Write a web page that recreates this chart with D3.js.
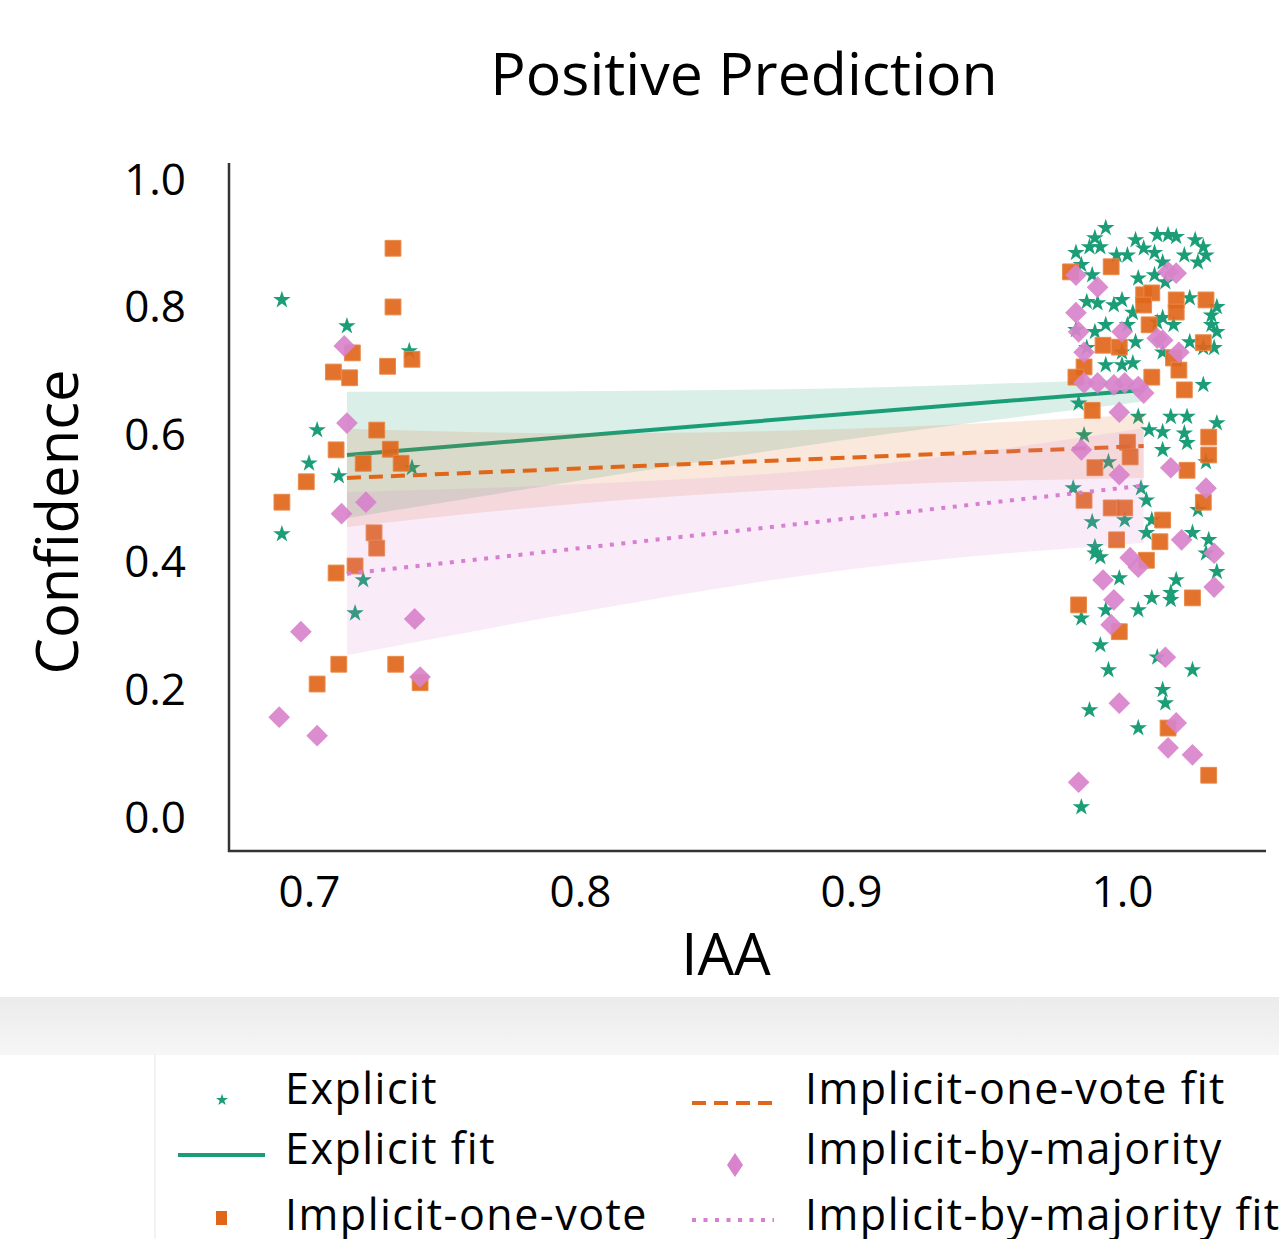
<!DOCTYPE html>
<html>
<head>
<meta charset="utf-8">
<script src="https://cdn.jsdelivr.net/npm/d3@7"></script>
<style>
  body { margin: 0; background: #fff; }
  text { font-family: "Open Sans", "Noto Sans", sans-serif; fill: #000; }
</style>
</head>
<body>
<div id="chart"></div>
<script>
// axis ticks
var xTicks = [0.7, 0.8, 0.9, 1.0];
var yTicks = [0.0, 0.2, 0.4, 0.6, 0.8, 1.0];

// scatter points [IAA (jittered), confidence]
var explicitPts = [
  [0.690, 0.812], [0.714, 0.771], [0.737, 0.732], [0.703, 0.608], [0.700, 0.556],
  [0.711, 0.536], [0.738, 0.549], [0.690, 0.445], [0.720, 0.373], [0.717, 0.321],
  [0.994, 0.925], [0.990, 0.909], [0.988, 0.895], [0.992, 0.895], [0.983, 0.886],
  [0.998, 0.882], [1.002, 0.882], [1.005, 0.906], [1.008, 0.893], [1.012, 0.886],
  [1.013, 0.914], [0.985, 0.867], [0.989, 0.851], [1.006, 0.846], [1.012, 0.851],
  [0.987, 0.809], [0.991, 0.807], [0.997, 0.804], [1.000, 0.812], [1.004, 0.792],
  [0.994, 0.773], [0.990, 0.762], [1.002, 0.773], [1.013, 0.777], [1.005, 0.746],
  [0.987, 0.737], [1.000, 0.730], [1.015, 0.730], [0.983, 0.765],
  [1.017, 0.914], [1.020, 0.911], [1.027, 0.906], [1.030, 0.895], [1.023, 0.882],
  [1.031, 0.882], [1.028, 0.871], [1.015, 0.871], [1.016, 0.840], [1.025, 0.815],
  [1.035, 0.801], [1.033, 0.788], [1.033, 0.773], [1.015, 0.784], [1.019, 0.773],
  [1.035, 0.762], [1.025, 0.746], [1.030, 0.737], [1.034, 0.737],
  [0.994, 0.710], [1.000, 0.710], [1.004, 0.713], [1.030, 0.679], [0.984, 0.650],
  [1.006, 0.629], [1.010, 0.608], [1.015, 0.605], [1.018, 0.629], [1.024, 0.629],
  [1.035, 0.619], [1.023, 0.603], [1.024, 0.588], [1.015, 0.577], [0.986, 0.600],
  [0.995, 0.558], [1.031, 0.558], [0.982, 0.517], [1.007, 0.517], [1.009, 0.498],
  [0.989, 0.464], [1.001, 0.467], [1.011, 0.467], [1.026, 0.447], [1.032, 0.436],
  [1.009, 0.447], [0.990, 0.425], [0.990, 0.415], [0.992, 0.409], [1.035, 0.386],
  [0.999, 0.376], [1.020, 0.373], [1.018, 0.353], [1.011, 0.345], [0.994, 0.326],
  [1.006, 0.326], [1.018, 0.342], [1.031, 0.415], [1.028, 0.483],
  [0.985, 0.313], [0.992, 0.271], [0.995, 0.232], [1.013, 0.252], [1.026, 0.232],
  [1.015, 0.201], [1.016, 0.180], [0.988, 0.169], [1.006, 0.141], [0.985, 0.017]
];

var oneVotePts = [
  [0.731, 0.893], [0.731, 0.801], [0.716, 0.729], [0.709, 0.699], [0.715, 0.690],
  [0.729, 0.708], [0.738, 0.719], [0.725, 0.608], [0.710, 0.577], [0.730, 0.578],
  [0.720, 0.556], [0.734, 0.556], [0.699, 0.527], [0.690, 0.495], [0.724, 0.447],
  [0.725, 0.423], [0.710, 0.384], [0.717, 0.395], [0.711, 0.241], [0.703, 0.210],
  [0.732, 0.241], [0.741, 0.212],
  [0.996, 0.864], [0.981, 0.856], [1.008, 0.820], [1.011, 0.823], [1.008, 0.804],
  [1.010, 0.773], [0.993, 0.741], [0.999, 0.738], [1.020, 0.812], [1.020, 0.793],
  [1.031, 0.812], [1.030, 0.745], [1.019, 0.721], [0.986, 0.707], [0.983, 0.691],
  [1.011, 0.691], [1.021, 0.702], [1.023, 0.671], [0.989, 0.639], [1.002, 0.589],
  [1.003, 0.566], [0.990, 0.549], [0.986, 0.498], [0.996, 0.486], [1.001, 0.486],
  [1.015, 0.467], [1.032, 0.597], [1.032, 0.569], [1.024, 0.545], [1.030, 0.495],
  [0.998, 0.436], [1.014, 0.433], [1.009, 0.404], [1.026, 0.345], [0.984, 0.334],
  [0.999, 0.292], [1.017, 0.141], [1.032, 0.067]
];

var majorityPts = [
  [0.713, 0.740], [0.714, 0.619], [0.721, 0.495], [0.712, 0.477], [0.697, 0.292],
  [0.739, 0.312], [0.741, 0.221], [0.689, 0.158], [0.703, 0.129],
  [0.983, 0.851], [0.991, 0.832], [0.983, 0.792], [0.984, 0.762], [1.000, 0.762],
  [1.013, 0.752], [0.986, 0.730], [1.017, 0.856], [1.020, 0.854], [1.015, 0.749],
  [1.021, 0.730], [0.986, 0.682], [0.991, 0.682], [0.997, 0.679], [1.001, 0.682],
  [1.006, 0.676], [1.008, 0.666], [0.999, 0.636], [0.985, 0.577], [0.999, 0.538],
  [1.018, 0.549], [1.031, 0.517], [1.022, 0.436], [1.034, 0.415], [1.003, 0.408],
  [1.006, 0.393], [0.993, 0.373], [0.997, 0.342], [1.034, 0.362], [0.996, 0.303],
  [1.016, 0.252], [0.999, 0.180], [1.020, 0.149], [1.017, 0.110], [1.026, 0.099],
  [0.984, 0.056]
];

// regression fits: x positions of band samples, fit value, CI low / high
var fitX = [0.714, 0.80, 0.90, 1.008];
var explicitFit = [0.569, 0.599, 0.634, 0.671];
var explicitLo  = [0.470, 0.529, 0.594, 0.653];
var explicitHi  = [0.668, 0.669, 0.674, 0.689];
var oneVoteFit  = [0.533, 0.548, 0.565, 0.583];
var oneVoteLo   = [0.456, 0.493, 0.520, 0.533];
var oneVoteHi   = [0.610, 0.603, 0.610, 0.633];
var majorityFit = [0.383, 0.423, 0.470, 0.521];
var majorityLo  = [0.255, 0.323, 0.390, 0.431];
var majorityHi  = [0.511, 0.523, 0.550, 0.611];

var green = '#1b9e77';
var orange = '#e0661a';
var pink = '#d883cb';

var W = 1279, H = 1239;

var svg = d3.select('#chart').append('svg')
  .attr('width', W)
  .attr('height', H);

var x = d3.scaleLinear().domain([0.7, 1.0]).range([309, 1122]);
var y = d3.scaleLinear().domain([0, 1]).range([818, 180]);

// title
svg.append('text')
  .attr('x', 744).attr('y', 95)
  .style('text-anchor', 'middle')
  .style('font-size', '59px')
  .text('Positive Prediction');

// y axis ticks (labels only)
var yAxis = d3.axisLeft(y).tickValues(yTicks).tickSize(0).tickPadding(0)
  .tickFormat(d3.format('.1f'));
svg.append('g')
  .attr('transform', 'translate(186,0)')
  .call(yAxis)
  .call(function(g) { g.select('.domain').remove(); })
  .selectAll('text')
    .style('font-size', '44px')
    .style('font-family', '"Open Sans", sans-serif')
    .attr('fill', '#000');

var xAxis = d3.axisBottom(x).tickValues(xTicks).tickSize(0).tickPadding(0)
  .tickFormat(d3.format('.1f'));
svg.append('g')
  .attr('transform', 'translate(0,876)')
  .call(xAxis)
  .call(function(g) { g.select('.domain').remove(); })
  .selectAll('text')
    .style('font-size', '44px')
    .style('font-family', '"Open Sans", sans-serif')
    .attr('fill', '#000');

// spines
svg.append('line')
  .attr('x1', 229).attr('x2', 229).attr('y1', 163).attr('y2', 852)
  .attr('stroke', '#333').attr('stroke-width', 2.5);
svg.append('line')
  .attr('x1', 228).attr('x2', 1266).attr('y1', 851).attr('y2', 851)
  .attr('stroke', '#333').attr('stroke-width', 2.5);

// axis labels
svg.append('text')
  .attr('x', 726).attr('y', 975)
  .style('text-anchor', 'middle')
  .style('font-size', '58px')
  .text('IAA');

svg.append('text')
  .attr('transform', 'translate(78,522) rotate(-90)')
  .style('text-anchor', 'middle')
  .style('font-size', '58px')
  .text('Confidence');

var plot = svg.append('g');

var starSym = d3.symbol().type(d3.symbolStar).size(95);
var squareSym = d3.symbol().type(d3.symbolSquare).size(250);
var diamondSym = d3.symbol().type(d3.symbolSquare).size(235);

var area = d3.area()
  .x(function(d) { return x(d.x); })
  .y0(function(d) { return y(d.lo); })
  .y1(function(d) { return y(d.hi); })
  .curve(d3.curveMonotoneX);

var line = d3.line()
  .x(function(d) { return x(d.x); })
  .y(function(d) { return y(d.v); })
  .curve(d3.curveMonotoneX);

function band(fit, lo, hi) {
  return fitX.map(function(xv, i) { return { x: xv, v: fit[i], lo: lo[i], hi: hi[i] }; });
}

function drawFit(rows, color, alpha, dash, width) {
  plot.append('path')
    .datum(rows)
    .attr('d', area)
    .attr('fill', color)
    .attr('fill-opacity', alpha);
  plot.append('path')
    .datum(rows)
    .attr('d', line)
    .attr('fill', 'none')
    .attr('stroke', color)
    .attr('stroke-width', width)
    .attr('stroke-dasharray', dash);
}

// Explicit
plot.append('g').selectAll('path').data(explicitPts)
  .enter().append('path')
  .attr('d', starSym)
  .attr('transform', function(d) { return 'translate(' + x(d[0]) + ',' + y(d[1]) + ')'; })
  .attr('fill', green);
drawFit(band(explicitFit, explicitLo, explicitHi), green, 0.17, null, 4);

// Implicit-one-vote
plot.append('g').selectAll('path').data(oneVotePts)
  .enter().append('path')
  .attr('d', squareSym)
  .attr('transform', function(d) { return 'translate(' + x(d[0]) + ',' + y(d[1]) + ')'; })
  .attr('fill', orange)
  .attr('fill-opacity', 0.92)
  .attr('stroke', '#e98a4a')
  .attr('stroke-width', 1);
drawFit(band(oneVoteFit, oneVoteLo, oneVoteHi), '#e0661a', 0.15, '14,8', 4);

// Implicit-by-majority
plot.append('g').selectAll('path').data(majorityPts)
  .enter().append('path')
  .attr('d', diamondSym)
  .attr('transform', function(d) { return 'translate(' + x(d[0]) + ',' + y(d[1]) + ') rotate(45)'; })
  .attr('fill', pink)
  .attr('fill-opacity', 0.92);
drawFit(band(majorityFit, majorityLo, majorityHi), '#d77fd0', 0.15, '4,7.5', 4);

// legend backdrop
var defs = svg.append('defs');
var grad = defs.append('linearGradient').attr('id', 'shade')
  .attr('x1', 0).attr('x2', 0).attr('y1', 0).attr('y2', 1);
grad.append('stop').attr('offset', '0%').attr('stop-color', '#ebebeb');
grad.append('stop').attr('offset', '100%').attr('stop-color', '#f6f6f6');

svg.append('rect')
  .attr('x', 0).attr('y', 997).attr('width', W).attr('height', 58)
  .attr('fill', 'url(#shade)');
svg.append('rect')
  .attr('x', 155).attr('y', 1055).attr('width', W - 155).attr('height', H - 1055)
  .attr('fill', '#fff');
svg.append('line')
  .attr('x1', 155).attr('x2', 155).attr('y1', 1055).attr('y2', H)
  .attr('stroke', '#eeeeee').attr('stroke-width', 1.5);

// legend entries
var leg = svg.append('g');
var legText = [
  { label: 'Explicit', x: 285, y: 1104 },
  { label: 'Explicit fit', x: 285, y: 1164 },
  { label: 'Implicit-one-vote', x: 285, y: 1230 },
  { label: 'Implicit-one-vote fit', x: 805, y: 1104 },
  { label: 'Implicit-by-majority', x: 805, y: 1164 },
  { label: 'Implicit-by-majority fit', x: 805, y: 1230 }
];
leg.selectAll('text').data(legText).enter().append('text')
  .attr('x', function(d) { return d.x; })
  .attr('y', function(d) { return d.y; })
  .style('font-size', '43px')
  .style('letter-spacing', '1.5px')
  .text(function(d) { return d.label; });

leg.append('path')
  .attr('d', d3.symbol().type(d3.symbolStar).size(45))
  .attr('transform', 'translate(222,1100)')
  .attr('fill', green);
leg.append('line')
  .attr('x1', 178).attr('x2', 265).attr('y1', 1155).attr('y2', 1155)
  .attr('stroke', green).attr('stroke-width', 4);
leg.append('rect')
  .attr('x', 216).attr('y', 1211).attr('width', 11).attr('height', 14)
  .attr('fill', orange);
leg.append('line')
  .attr('x1', 692).attr('x2', 776).attr('y1', 1103).attr('y2', 1103)
  .attr('stroke', '#e0661a').attr('stroke-width', 4)
  .attr('stroke-dasharray', '14,8');
leg.append('path')
  .attr('d', 'M735,1153 L743,1165 L735,1177 L727,1165 Z')
  .attr('fill', pink);
leg.append('line')
  .attr('x1', 692).attr('x2', 774).attr('y1', 1220).attr('y2', 1220)
  .attr('stroke', '#d77fd0').attr('stroke-width', 4)
  .attr('stroke-dasharray', '4,7.5');
</script>
</body>
</html>
